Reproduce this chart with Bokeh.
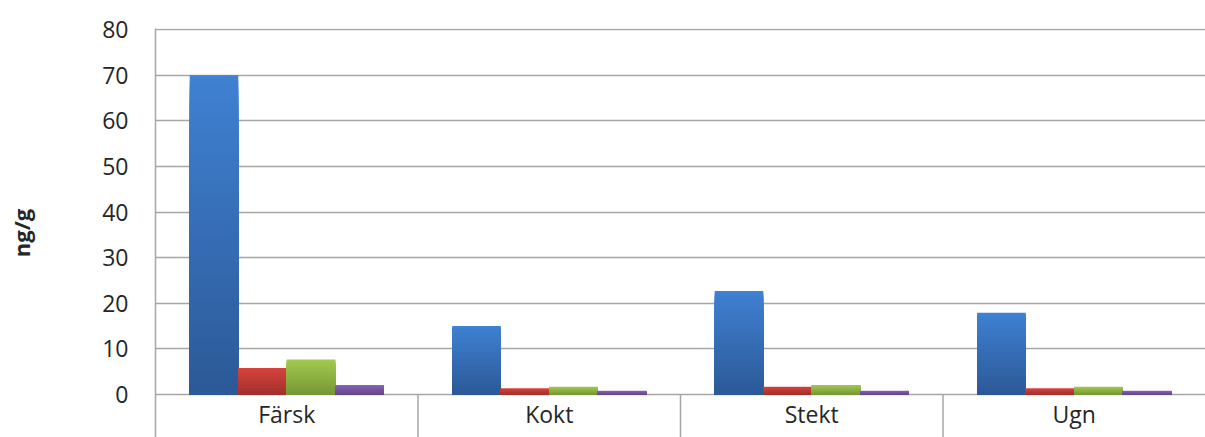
import numpy as np
from bokeh.plotting import figure
from bokeh.models import Range1d, FixedTicker, ColumnDataSource
from bokeh.core.properties import value
from bokeh.embed import file_html
from bokeh.resources import INLINE

# ---- data ----
categories = ["Färsk", "Kokt", "Stekt", "Ugn"]
series_blue = [70.0, 15.0, 22.7, 17.9]
series_red = [5.8, 1.3, 1.7, 1.3]
series_green = [7.7, 1.7, 2.1, 1.7]
series_purple = [2.1, 0.8, 0.8, 0.8]
y_ticks = [0, 10, 20, 30, 40, 50, 60, 70, 80]
y_label = "ng/g"

series = [series_blue, series_red, series_green, series_purple]
# (top colour, bottom colour) for a vertical gradient
grad = [
    ((0x3F, 0x81, 0xD3), (0x2C, 0x59, 0x96)),
    ((0xD6, 0x43, 0x3D), (0xA3, 0x31, 0x2D)),
    ((0xA3, 0xCA, 0x50), (0x77, 0x97, 0x36)),
    ((0x8B, 0x66, 0xB3), (0x66, 0x45, 0x8C)),
]

GRAY = "#A6A6A6"
FONT = "Open Sans"

y_start = -9.42
y_end = 80.22
cat_px = 262.5
frame_w = 1050
x_end = frame_w / cat_px

p = figure(width=1205, height=437,
           x_range=Range1d(0, x_end), y_range=Range1d(y_start, y_end),
           output_backend="svg", toolbar_location=None,
           x_axis_location=None,
           min_border_left=155, min_border_right=0,
           min_border_top=28, min_border_bottom=0)
p.outline_line_color = None
p.background_fill_color = "white"
p.xgrid.visible = False

p.yaxis.ticker = FixedTicker(ticks=y_ticks, minor_ticks=[])
p.ygrid.ticker = FixedTicker(ticks=y_ticks, minor_ticks=[])
p.ygrid.grid_line_color = GRAY
p.ygrid.grid_line_width = 1.5
p.yaxis.axis_line_color = GRAY
p.yaxis.axis_line_width = 1.5
p.yaxis.major_tick_out = 0
p.yaxis.major_tick_in = 0
p.yaxis.minor_tick_out = 0
p.yaxis.minor_tick_in = 0
p.yaxis.major_label_standoff = 27
p.yaxis.major_label_text_font = FONT
p.yaxis.major_label_text_font_size = "23px"
p.yaxis.major_label_text_color = "#262626"
p.yaxis.axis_label = y_label
p.yaxis.axis_label_text_font = FONT
p.yaxis.axis_label_text_font_style = "bold"
p.yaxis.axis_label_text_font_size = "22px"
p.yaxis.axis_label_text_color = "#262626"
p.yaxis.axis_label_standoff = 63

n = len(categories)
centers = np.arange(n) + 0.5
w = 48.5 / cat_px
N = 60
for k, vals in enumerate(series):
    xs = centers + (k - 1.5) * w
    vals = np.asarray(vals)
    top_c, bot_c = grad[k]
    # draw from tallest (lightest) to shortest (darkest) so no seams show
    for j in range(N):
        frac = (N - j) / N
        t = (N - j - 0.5) / N
        c = tuple(int(round(bot_c[i] + (top_c[i] - bot_c[i]) * t)) for i in range(3))
        col = "#%02x%02x%02x" % c
        src = ColumnDataSource(dict(x=xs, top=vals * frac))
        p.vbar(x="x", bottom=0, top="top", width=w, source=src,
               fill_color=col, line_color=None)

# category separators (between categories) below the zero line
seps = np.arange(1, n)
p.segment(x0=seps, y0=0, x1=seps, y1=y_start, line_color=GRAY, line_width=1.5)

# category labels
p.text(x=centers, y=[-4.16] * n, text=categories, text_align="center",
       text_baseline="middle", text_font=value(FONT),
       text_font_size=value("23px"), text_color="#262626")

open("out.html", "w").write(file_html(p, INLINE))
